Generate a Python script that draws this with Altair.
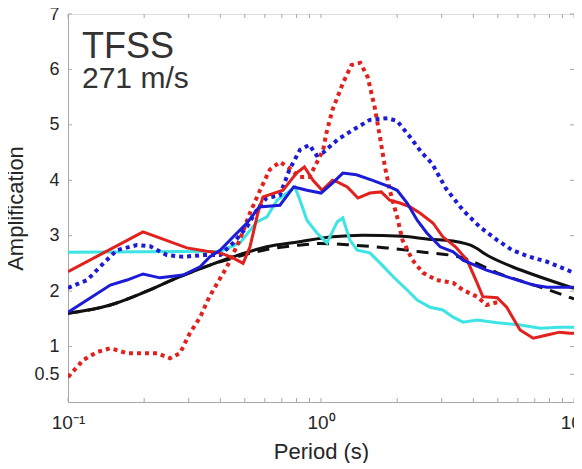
import altair as alt
import pandas as pd

# ---- data (period in s, amplification) ----
cyan_T = [0.1, 0.4, 0.478, 0.558, 0.612, 0.67, 0.734, 0.789, 0.826, 0.88, 0.964, 1.056, 1.117, 1.16, 1.22,
          1.30, 1.39, 1.56, 1.71, 1.93, 2.19, 2.40, 2.70, 3.03, 3.33, 3.64, 4.14, 4.97, 6.12, 7.35, 8.77, 10]
cyan_A = [2.7, 2.72, 2.87, 3.25, 3.34, 3.64, 3.77, 3.88, 3.64, 3.28, 3.05, 2.87, 3.1, 3.25, 3.32,
          2.92, 2.74, 2.69, 2.51, 2.26, 2.02, 1.84, 1.71, 1.66, 1.53, 1.44, 1.48, 1.43, 1.39, 1.33, 1.35, 1.35]

red_T = [0.1, 0.198, 0.295, 0.354, 0.4, 0.449, 0.492, 0.524, 0.563, 0.59, 0.708, 0.80, 0.86, 0.93, 1.01,
         1.11, 1.16, 1.27, 1.40, 1.56, 1.73, 1.87, 2.05, 2.25, 2.46, 2.77, 3.03, 3.4, 3.78, 4.14, 4.36,
         4.97, 5.42, 6.12, 6.9, 7.83, 8.77, 9.6, 10]
red_A = [2.35, 3.07, 2.78, 2.72, 2.69, 2.6, 2.5, 2.8, 3.41, 3.7, 3.82, 4.13, 4.24, 4.0, 3.82,
         4.0, 3.97, 3.88, 3.68, 3.77, 3.79, 3.64, 3.59, 3.52, 3.41, 3.23, 2.98, 2.8, 2.56, 2.15, 1.9,
         1.88, 1.71, 1.30, 1.15, 1.21, 1.26, 1.24, 1.24]

blue_T = [0.1, 0.119, 0.147, 0.171, 0.198, 0.231, 0.285, 0.333, 0.364, 0.4, 0.45, 0.51, 0.57, 0.688,
          0.78, 0.88, 1.0, 1.11, 1.22, 1.38, 1.6, 1.87, 2.0, 2.19, 2.4, 2.62, 2.96, 3.33, 3.64, 4.51,
          5.6, 6.9, 7.83, 10]
blue_A = [1.62, 1.84, 2.11, 2.2, 2.31, 2.24, 2.29, 2.44, 2.62, 2.74, 2.98, 3.23, 3.52, 3.55,
          3.88, 3.82, 3.77, 3.95, 4.13, 4.1, 4.0, 3.88, 3.82, 3.59, 3.28, 3.05, 2.8, 2.71, 2.56, 2.38,
          2.24, 2.11, 2.07, 2.07]

black_T = [0.1, 0.147, 0.2, 0.27, 0.364, 0.45, 0.61, 0.82, 1.11, 1.46, 2.1, 2.77, 3.1, 3.9, 4.65, 5.7, 7.3, 10]
black_A = [1.6, 1.75, 1.98, 2.24, 2.47, 2.62, 2.8, 2.89, 2.98, 3.01, 2.99, 2.93, 2.92, 2.83, 2.62, 2.44, 2.26, 2.05]

dash_T = [0.1, 0.147, 0.2, 0.27, 0.364, 0.45, 0.61, 0.82, 1.0, 1.34, 1.82, 2.46, 3.64, 4.97, 7.5, 10]
dash_A = [1.6, 1.75, 1.98, 2.24, 2.47, 2.6, 2.75, 2.83, 2.86, 2.83, 2.78, 2.71, 2.6, 2.33, 2.06, 1.86]

bdot_T = [0.1, 0.119, 0.138, 0.156, 0.187, 0.211, 0.246, 0.285, 0.342, 0.4, 0.45, 0.51, 0.563, 0.61,
          0.688, 0.75, 0.826, 0.9, 0.96, 1.02, 1.16, 1.34, 1.56, 1.83, 2.0, 2.25, 2.5, 2.75, 3.12, 3.64,
          4.24, 4.97, 5.7, 6.66, 7.83, 10]
bdot_A = [2.06, 2.2, 2.5, 2.74, 2.83, 2.81, 2.65, 2.62, 2.65, 2.65, 2.87, 3.16, 3.5, 3.68,
          3.73, 4.19, 4.55, 4.64, 4.45, 4.5, 4.73, 4.91, 5.09, 5.12, 5.07, 4.78, 4.5, 4.3, 3.85, 3.46,
          3.16, 2.92, 2.74, 2.62, 2.53, 2.33]

rdot_T = [0.1, 0.115, 0.13, 0.147, 0.171, 0.198, 0.225, 0.253, 0.277, 0.303, 0.333, 0.357, 0.375, 0.425,
          0.477, 0.524, 0.574, 0.627, 0.688, 0.75, 0.82, 0.9, 0.96, 1.02, 1.05, 1.11, 1.22, 1.32, 1.43,
          1.53, 1.63, 1.71, 1.79, 1.87, 2.0, 2.1, 2.3, 2.53, 2.86, 3.33, 3.64, 4.14, 4.51, 4.97]
rdot_A = [0.45, 0.76, 0.9, 0.97, 0.88, 0.88, 0.88, 0.79, 0.88, 1.24, 1.53, 1.84, 2.02, 2.44,
          2.92, 3.41, 3.82, 4.19, 4.33, 4.22, 4.06, 4.06, 4.31, 4.55, 4.85, 5.27, 5.75, 6.08, 6.12,
          5.86, 5.32, 4.78, 4.24, 3.82, 3.34, 2.92, 2.56, 2.33, 2.2, 2.15, 2.02, 1.9, 1.75, 1.8]

x_major = [0.1, 1, 10]
x_minor = [0.2, 0.3, 0.4, 0.5, 0.6, 0.7, 0.8, 0.9, 2, 3, 4, 5, 6, 7, 8, 9]
y_ticks = [0.5, 1, 2, 3, 4, 5, 6, 7]
annot = ["TFSS", "271 m/s"]

FONT = "Liberation Sans"
GRAY = "#a8a8a8"
TXT = "#262626"
W, H = 506, 388

xscale = alt.Scale(type="log", domain=[0.1, 10])
yscale = alt.Scale(domain=[0, 7])

xaxis = alt.Axis(values=x_major, labelExpr="datum.value < 0.5 ? '10⁻¹' : (datum.value < 5 ? '10⁰' : '10¹')",
                 title="Period (s)", grid=False, ticks=False, tickSize=0, labelFontSize=19, labelPadding=11,
                 labelFlush=False, labelOverlap=False, titleFontSize=22, titleFontWeight="normal",
                 titleX=W / 2, titleY=56, titleBaseline="alphabetic", domainColor=GRAY,
                 labelColor=TXT, titleColor=TXT, labelFont=FONT, titleFont=FONT)
yaxis = alt.Axis(values=y_ticks, format="~g", title="Amplification", grid=False, ticks=False, tickSize=0,
                 labelFontSize=18, labelPadding=9, titleFontSize=22, titleFontWeight="normal",
                 titleAngle=270, titleX=-46, titleY=194, titleAlign="center", titleBaseline="alphabetic",
                 domainColor=GRAY, labelColor=TXT, titleColor=TXT, labelFont=FONT, titleFont=FONT)


def series(T, A, color, width, dash=None, interp="linear"):
    kw = dict(color=color, strokeWidth=width, clip=True, interpolate=interp)
    if dash:
        kw["strokeDash"] = dash
    return alt.Chart(pd.DataFrame({"T": T, "A": A})).mark_line(**kw).encode(
        x=alt.X("T:Q", scale=xscale, axis=xaxis),
        y=alt.Y("A:Q", scale=yscale, axis=yaxis),
    )


RED, BLUE, CYAN, BLACK = "#e2201c", "#1c1cd6", "#3ce4e4", "#111111"

layers = [
    series(black_T, black_A, BLACK, 3, interp="monotone"),
    series(dash_T, dash_A, BLACK, 3, dash=[12, 8], interp="monotone"),
    series(cyan_T, cyan_A, CYAN, 3),
    series(rdot_T, rdot_A, RED, 4, dash=[4, 4]),
    series(bdot_T, bdot_A, BLUE, 4, dash=[4, 4]),
    series(red_T, red_A, RED, 3),
    series(blue_T, blue_A, BLUE, 3),
]

xt = pd.DataFrame({"T": x_major + x_minor})
yt = pd.DataFrame({"A": y_ticks})
tick_style = dict(color=GRAY, strokeWidth=1)
ticks = [
    alt.Chart(xt).mark_rule(**tick_style).encode(x=alt.X("T:Q", scale=xscale), y=alt.value(H), y2=alt.value(H - 4)),
    alt.Chart(xt).mark_rule(**tick_style).encode(x=alt.X("T:Q", scale=xscale), y=alt.value(0), y2=alt.value(4)),
    alt.Chart(yt).mark_rule(**tick_style).encode(y=alt.Y("A:Q", scale=yscale), x=alt.value(0), x2=alt.value(4)),
    alt.Chart(yt).mark_rule(**tick_style).encode(y=alt.Y("A:Q", scale=yscale), x=alt.value(W - 4), x2=alt.value(W)),
]

title1 = alt.Chart(pd.DataFrame({"t": [annot[0]]})).mark_text(
    font=FONT, fontSize=36, color="#333333", align="left", baseline="alphabetic"
).encode(text="t:N", x=alt.value(14), y=alt.value(44))
title2 = alt.Chart(pd.DataFrame({"t": [annot[1]]})).mark_text(
    font=FONT, fontSize=30, color="#333333", align="left", baseline="alphabetic"
).encode(text="t:N", x=alt.value(14), y=alt.value(74))

chart = alt.layer(*ticks, *layers, title1, title2).properties(
    width=W, height=H,
    autosize=alt.AutoSizeParams(type="none"),
    padding={"left": 60, "top": 6, "right": 0, "bottom": 61},
).configure_view(stroke=GRAY, strokeWidth=1).configure(background="white")

chart.save("out.html", embed_options={"renderer": "svg", "actions": False})
